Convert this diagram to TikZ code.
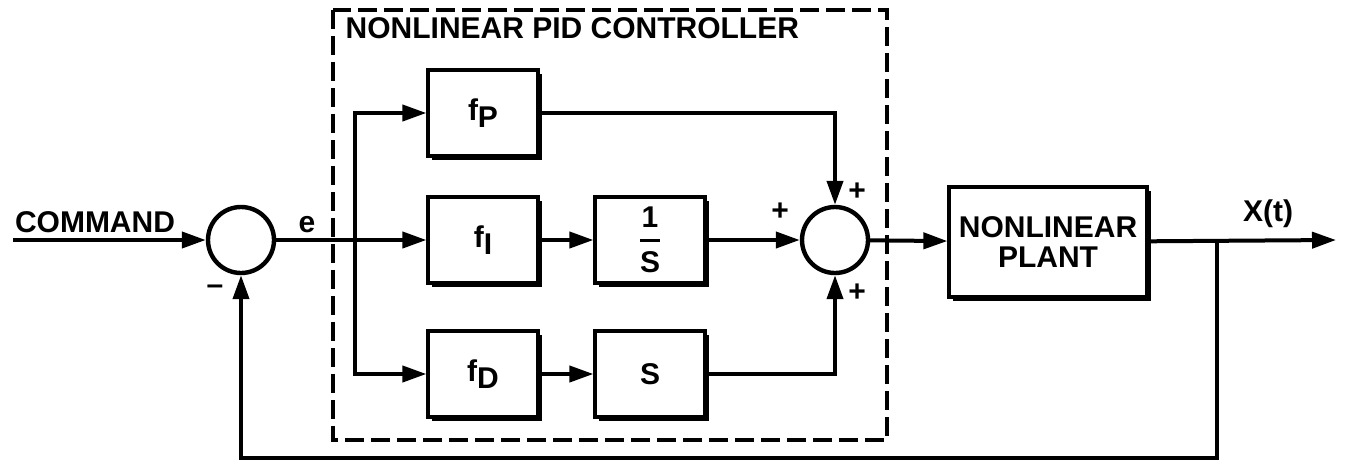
\documentclass[tikz,border=0pt]{standalone}
\usepackage{amsmath}
\usepackage{fontspec}
\setmainfont{Liberation Sans}
\usetikzlibrary{arrows.meta,shadows}

\begin{document}
\begin{tikzpicture}[x=0.5pt,y=-0.5pt,>={Triangle[length=12pt,width=8pt]},line width=2pt,
  every node/.style={font=\bfseries\fontsize{15}{17}\selectfont},
  blk/.style={draw,fill=white,line width=1.6pt,minimum width=55pt,minimum height=43pt,
    drop shadow={shadow xshift=1.8pt,shadow yshift=-1.8pt,opacity=1,fill=black}},
  sumnode/.style={draw,circle,fill=white,line width=2.2pt,minimum size=33pt,inner sep=0pt}]
  \useasboundingbox (0,0) rectangle (1353,461);
  % controller frame
  \draw[line width=1.8pt,dash pattern=on 9.5pt off 3.5pt] (333,10) rectangle (887,440);
  \node[anchor=west] (title) at (337,28) {NONLINEAR PID CONTROLLER};
  % blocks
  \node[sumnode] (sumA) at (241,240) {};
  \node[blk] (fP) at (483,113) {f\raisebox{-0.45ex}{P}};
  \node[blk] (fI) at (483,240) {f\raisebox{-0.45ex}{I}};
  \node[blk] (fD) at (483,374) {f\raisebox{-0.45ex}{D}};
  \node[blk] (inv) at (650,240) {$\genfrac{}{}{1.6pt}{0}{\mbox{1}}{\mbox{S}}$};
  \node[blk] (der) at (650,374) {S};
  \node[sumnode] (sumB) at (835,240) {};
  \node[blk,minimum width=99pt,minimum height=55pt,align=center] (plant) at (1048,242) {NONLINEAR\\[-2pt]PLANT};
  \coordinate (cmd) at (13,240);
  \coordinate (split) at (355,240);
  \coordinate (tap) at (1217,240);
  \coordinate (out) at (1336,240);
  \coordinate (fbk) at (1217,458);
  % labels
  \node (cmdlbl) at (95,222) {COMMAND};
  \node (elbl) at (307,225) {e};
  \node (minus) at (215,290) {--};
  \node (plusL) at (780,212) {+};
  \node (plusT) at (857,192) {+};
  \node (plusB) at (857,293) {+};
  \node (xlbl) at (1268,214) {X(t)};
  % signal paths
  \draw[->] (cmd) -- (sumA);
  \draw[->] (sumA) -- (fI);
  \draw[->] (split) |- (fP);
  \draw[->] (split) |- (fD);
  \draw[->] (fI) -- (inv);
  \draw[->] (fD) -- (der);
  \draw[->] (inv) -- (sumB);
  \draw[->] (fP) -| (sumB);
  \draw[->] (der) -| (sumB);
  \draw[->] (sumB) -- (plant);
  \draw[->] (plant) -- (out);
  \draw[->] (tap) -- (fbk) -| (sumA);
\end{tikzpicture}
\end{document}
